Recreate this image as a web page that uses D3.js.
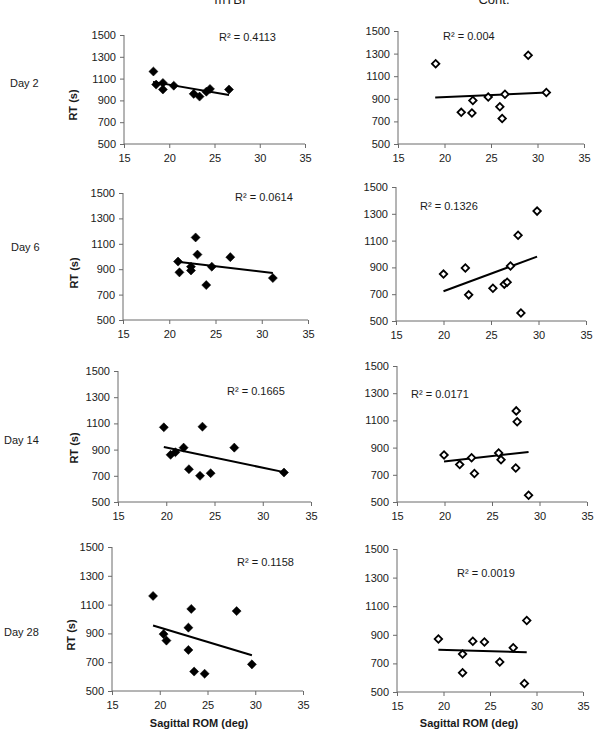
<!DOCTYPE html>
<html><head><meta charset="utf-8">
<script src="https://cdn.jsdelivr.net/npm/d3@7"></script>
<style>
body{margin:0;background:#fff}
svg{display:block}
text{font-family:"Liberation Sans",Arial,sans-serif;fill:#1a1a1a}
</style>
</head><body>
<svg id="c" width="600" height="734"></svg>
<script>
// ---------- data ----------
const groups = ["mTBI", "Cont."];
const days = ["Day 2", "Day 6", "Day 14", "Day 28"];
const xTicks = [15, 20, 25, 30, 35];
const yTicks = [500, 700, 900, 1100, 1300, 1500];
const r2Text = ["R² = 0.4113", "R² = 0.004", "R² = 0.0614", "R² = 0.1326",
                "R² = 0.1665", "R² = 0.0171", "R² = 0.1158", "R² = 0.0019"];
const yTitle = "RT (s)";
const xTitle = "Sagittal ROM (deg)";

const day2TbiRom  = [18.25, 18.55, 19.3, 19.3, 20.5, 22.7, 23.35, 24.1, 24.5, 26.6];
const day2TbiRt   = [1165, 1045, 1060, 1000, 1035, 960, 935, 980, 1005, 1000];
const day2TbiFitX = [18.2, 26.6];
const day2TbiFitY = [1070, 950];

const day2ConRom  = [19.05, 29.0, 21.8, 22.95, 23.05, 24.7, 25.95, 26.2, 26.5, 30.95];
const day2ConRt   = [1210, 1285, 780, 775, 885, 915, 830, 725, 940, 955];
const day2ConFitX = [19.0, 31.0];
const day2ConFitY = [912, 955];

const day6TbiRom  = [20.95, 21.1, 22.35, 22.35, 22.85, 23.05, 24.0, 24.6, 26.6, 31.2];
const day6TbiRt   = [960, 875, 920, 890, 1150, 1015, 775, 920, 995, 830];
const day6TbiFitX = [20.9, 31.2];
const day6TbiFitY = [958, 870];

const day6ConRom  = [20.0, 22.3, 22.65, 25.2, 26.4, 26.7, 27.05, 27.85, 28.15, 29.85];
const day6ConRt   = [850, 895, 695, 745, 775, 790, 910, 1140, 560, 1320];
const day6ConFitX = [20.0, 29.85];
const day6ConFitY = [722, 980];

const day14TbiRom  = [19.75, 20.45, 20.95, 21.8, 22.35, 23.5, 23.75, 24.6, 27.05, 32.2];
const day14TbiRt   = [1070, 860, 880, 915, 750, 700, 1075, 720, 915, 725];
const day14TbiFitX = [19.75, 32.2];
const day14TbiFitY = [920, 728];

const day14ConRom  = [19.95, 21.6, 22.85, 23.15, 25.7, 25.95, 27.5, 27.55, 27.65, 28.85];
const day14ConRt   = [845, 775, 825, 710, 860, 810, 750, 1170, 1090, 550];
const day14ConFitX = [19.95, 28.85];
const day14ConFitY = [798, 868];

const day28TbiRom  = [19.3, 20.4, 20.7, 23.0, 23.0, 23.3, 23.6, 24.7, 28.05, 29.65];
const day28TbiRt   = [1160, 895, 850, 940, 785, 1070, 635, 620, 1055, 685];
const day28TbiFitX = [19.3, 29.65];
const day28TbiFitY = [955, 748];

const day28ConRom  = [19.45, 22.05, 22.05, 23.15, 24.4, 26.05, 27.5, 28.7, 28.95];
const day28ConRt   = [870, 765, 635, 855, 850, 710, 810, 560, 1000];
const day28ConFitX = [19.45, 28.95];
const day28ConFitY = [795, 778];

const panelData = [
  [day2TbiRom, day2TbiRt, day2TbiFitX, day2TbiFitY],
  [day2ConRom, day2ConRt, day2ConFitX, day2ConFitY],
  [day6TbiRom, day6TbiRt, day6TbiFitX, day6TbiFitY],
  [day6ConRom, day6ConRt, day6ConFitX, day6ConFitY],
  [day14TbiRom, day14TbiRt, day14TbiFitX, day14TbiFitY],
  [day14ConRom, day14ConRt, day14ConFitX, day14ConFitY],
  [day28TbiRom, day28TbiRt, day28TbiFitX, day28TbiFitY],
  [day28ConRom, day28ConRt, day28ConFitX, day28ConFitY]
];

// ---------- layout (pixels) ----------
const layout = [
  {x0:124, x1:305, yT:35,  yB:144, r2x:219, r2y:37},
  {x0:398, x1:584, yT:31,  yB:144, r2x:443, r2y:36},
  {x0:123, x1:308, yT:193, yB:320, r2x:235, r2y:197},
  {x0:396, x1:586, yT:187, yB:321, r2x:420, r2y:206},
  {x0:118, x1:311, yT:371, yB:502, r2x:227, r2y:391},
  {x0:397, x1:587, yT:366, yB:502, r2x:411, r2y:394},
  {x0:112, x1:303, yT:547, yB:691, r2x:237, r2y:562},
  {x0:397, x1:583, yT:549, yB:692, r2x:457, r2y:573}
];
const dayLabelPos = [{x:10, y:83}, {x:11, y:247}, {x:4, y:440}, {x:4, y:632}];
const rtPos = [{x:73, y:105}, {x:74, y:273}, {x:74, y:448}, {x:71, y:635}];
const headerPos = [{x:230, y:4}, {x:494, y:4}];
const xTitlePos = [{x:199, y:727}, {x:469, y:727}];

const svg = d3.select("#c");
const axisColor = "#6a6a6a";

// headers
svg.selectAll(".hdr").data(groups).join("text")
  .attr("x", (d,i) => headerPos[i].x).attr("y", (d,i) => headerPos[i].y)
  .attr("text-anchor", "middle").style("font-size", "13px").text(d => d);

// day labels
svg.selectAll(".day").data(days).join("text")
  .attr("x", (d,i) => dayLabelPos[i].x).attr("y", (d,i) => dayLabelPos[i].y + 4)
  .style("font-size", "11px").text(d => d);

// RT titles
days.forEach((d,i) => {
  svg.append("text")
    .attr("transform", `translate(${rtPos[i].x},${rtPos[i].y}) rotate(-90)`)
    .attr("text-anchor", "middle").attr("dy", "0.35em")
    .style("font-size", "11px").style("font-weight", "bold").text(yTitle);
});

// x titles
xTitlePos.forEach(p => {
  svg.append("text").attr("x", p.x).attr("y", p.y).attr("text-anchor", "middle")
    .style("font-size", "11px").style("font-weight", "bold").text(xTitle);
});

const diamond = d3.symbol().type(d3.symbolSquare);

panelData.forEach((pd, i) => {
  const L = layout[i];
  const isCon = i % 2 === 1;
  const x = d3.scaleLinear().domain([15, 35]).range([L.x0, L.x1]);
  const y = d3.scaleLinear().domain([500, 1500]).range([L.yB, L.yT]);
  const g = svg.append("g");

  // y axis
  const ya = g.append("g").attr("transform", `translate(${L.x0},0)`)
    .call(d3.axisLeft(y).tickValues(yTicks).tickSize(4).tickPadding(4).tickFormat(d3.format("d")));
  // x axis
  const xa = g.append("g").attr("transform", `translate(0,${L.yB})`)
    .call(d3.axisBottom(x).tickValues(xTicks).tickSize(4).tickPadding(6).tickFormat(d3.format("d")));
  [ya, xa].forEach(a => {
    a.select(".domain").attr("stroke", axisColor).attr("d", null);
    a.selectAll(".tick line").attr("stroke", axisColor);
    a.selectAll(".tick text").style("font-size", "11px")
      .style("font-family", '"Liberation Sans",Arial,sans-serif').attr("fill", "#1a1a1a");
  });
  ya.select(".domain").attr("d", `M0,${L.yT}V${L.yB}`);
  xa.select(".domain").attr("d", `M${L.x0},0H${L.x1}`);

  // trend line
  const [rom, rt, fx, fy] = pd;
  const fit = fx.map((v,k) => [v, fy[k]]);
  g.append("path").datum(fit)
    .attr("d", d3.line().x(d => x(d[0])).y(d => y(d[1])))
    .attr("stroke", "#000").attr("stroke-width", 2).attr("fill", "none");

  // points
  const pts = rom.map((v,k) => [v, rt[k]]);
  g.selectAll(".pt").data(pts).join("path")
    .attr("d", diamond.size(isCon ? 28 : 41)())
    .attr("transform", d => `translate(${x(d[0])},${y(d[1])}) rotate(45)`)
    .attr("fill", isCon ? "#fff" : "#000")
    .attr("stroke", "#000")
    .attr("stroke-width", isCon ? 1.8 : 0.5);

  // R² label
  g.append("text").attr("x", L.r2x).attr("y", L.r2y + 4)
    .style("font-size", "11px").text(r2Text[i]);
});
</script>
</body></html>
